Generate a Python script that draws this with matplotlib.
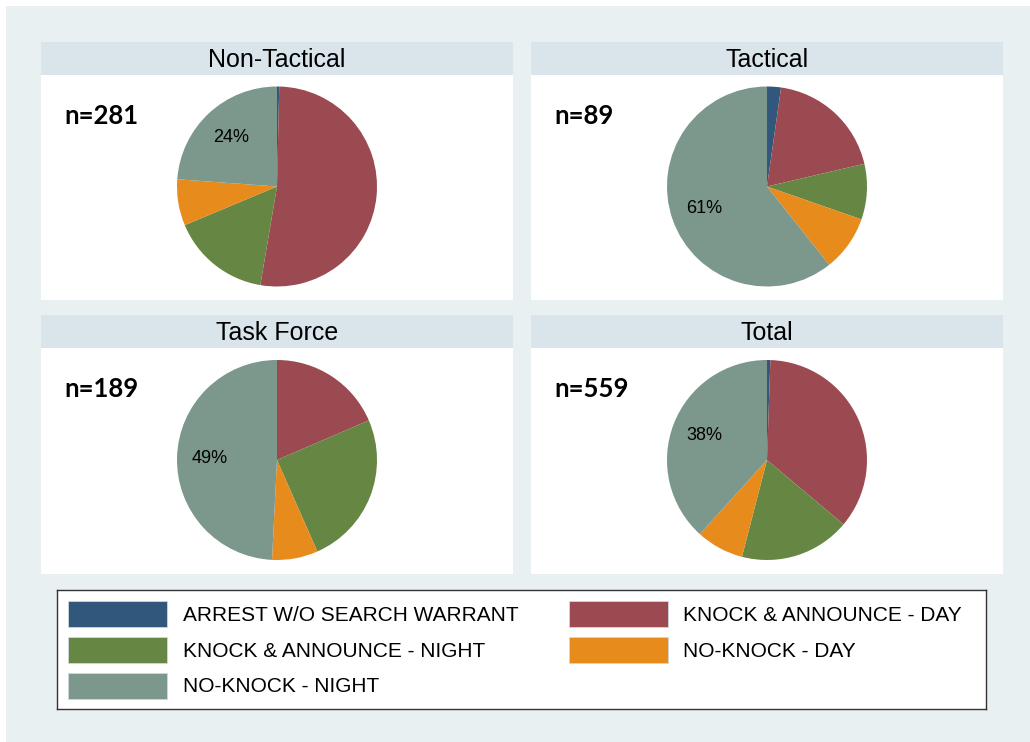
import matplotlib
matplotlib.use("Agg")
import matplotlib.pyplot as plt
from matplotlib.patches import Rectangle

# ---- data ----
categories = ["ARREST W/O SEARCH WARRANT", "KNOCK & ANNOUNCE - DAY",
              "KNOCK & ANNOUNCE - NIGHT", "NO-KNOCK - DAY", "NO-KNOCK - NIGHT"]
panel_titles = ["Non-Tactical", "Tactical", "Task Force", "Total"]
non_tactical = [1, 147, 45, 21, 67]
tactical = [2, 17, 8, 8, 54]
task_force = [0, 35, 47, 14, 93]
total = [3, 199, 100, 43, 214]
panel_values = [non_tactical, tactical, task_force, total]

# ---- style ----
colors = ["#31587c", "#9a4a50", "#668643", "#e78b1c", "#7c978c"]
BG = "#e8f0f2"
TITLE_BG = "#d9e5eb"
W, H = 1030, 742
FONT = "Liberation Sans"

fig = plt.figure(figsize=(W / 100, H / 100), dpi=100, facecolor="white")

def px_axes(x0, y0, x1, y1, **kw):
    return fig.add_axes([x0 / W, 1 - y1 / H, (x1 - x0) / W, (y1 - y0) / H], **kw)

def blank(ax, color):
    ax.set_facecolor(color)
    ax.set_frame_on(True)
    ax.set_xticks([]); ax.set_yticks([])
    for s in ax.spines.values():
        s.set_visible(False)

# background
bg = px_axes(6, 6, W, H)
blank(bg, BG)

panels = [
    (41, 513, 42, 75, 300),
    (531, 1003, 42, 75, 300),
    (41, 513, 315, 348, 574),
    (531, 1003, 315, 348, 574),
]

for (x0, x1, ty0, py0, py1), title, vals in zip(panels, panel_titles, panel_values):
    # title bar
    tb = px_axes(x0, ty0, x1, py0)
    blank(tb, TITLE_BG)
    tb.text(0.5, 0.45, title, ha="center", va="center", fontsize=18,
            family=FONT, transform=tb.transAxes)

    # plot area
    ax = px_axes(x0, py0, x1, py1)
    n = sum(vals)
    labels = [""] * (len(vals) - 1) + [f"{round(100 * vals[-1] / n)}%"]
    wedges, texts = ax.pie(vals, colors=colors, startangle=90, counterclock=False,
                           radius=1.0, labels=labels, labeldistance=0.67,
                           wedgeprops=dict(linewidth=0),
                           textprops=dict(fontsize=13, family=FONT))
    for t in texts:
        t.set_ha("center"); t.set_va("center")
    wpx = x1 - x0
    hpx = py1 - py0
    ax.set_xlim(-wpx / 200, wpx / 200)
    ax.set_ylim(-hpx / 200 - 0.01, hpx / 200 - 0.01)
    ax.set_aspect("equal")
    blank(ax, "white")
    ax.text(23 / wpx, 1 - 41 / hpx, f"n={n}", transform=ax.transAxes,
            ha="left", va="center", fontsize=18.5, fontweight="bold", family="Lato")

# legend box
lg = px_axes(57, 590, 986, 709)
lg.set_facecolor("white")
lg.set_xlim(57, 986)
lg.set_ylim(709, 590)
lg.set_xticks([]); lg.set_yticks([])
for s in lg.spines.values():
    s.set_edgecolor("#333333")
    s.set_linewidth(1.0)

col_key_x = [68, 569]
col_text_x = [183, 683]
row_y = [614, 650, 685.5]
for i, (cat, c) in enumerate(zip(categories, colors)):
    col = i % 2
    row = i // 2
    yc = row_y[row]
    lg.add_patch(Rectangle((col_key_x[col], yc - 13), 99, 26, facecolor=c,
                           edgecolor="#cfd8dc", linewidth=0.6))
    lg.text(col_text_x[col], yc + 1.5, cat, ha="left", va="center", fontsize=15, family=FONT)

fig.savefig("out.png", dpi=100, facecolor="white")
